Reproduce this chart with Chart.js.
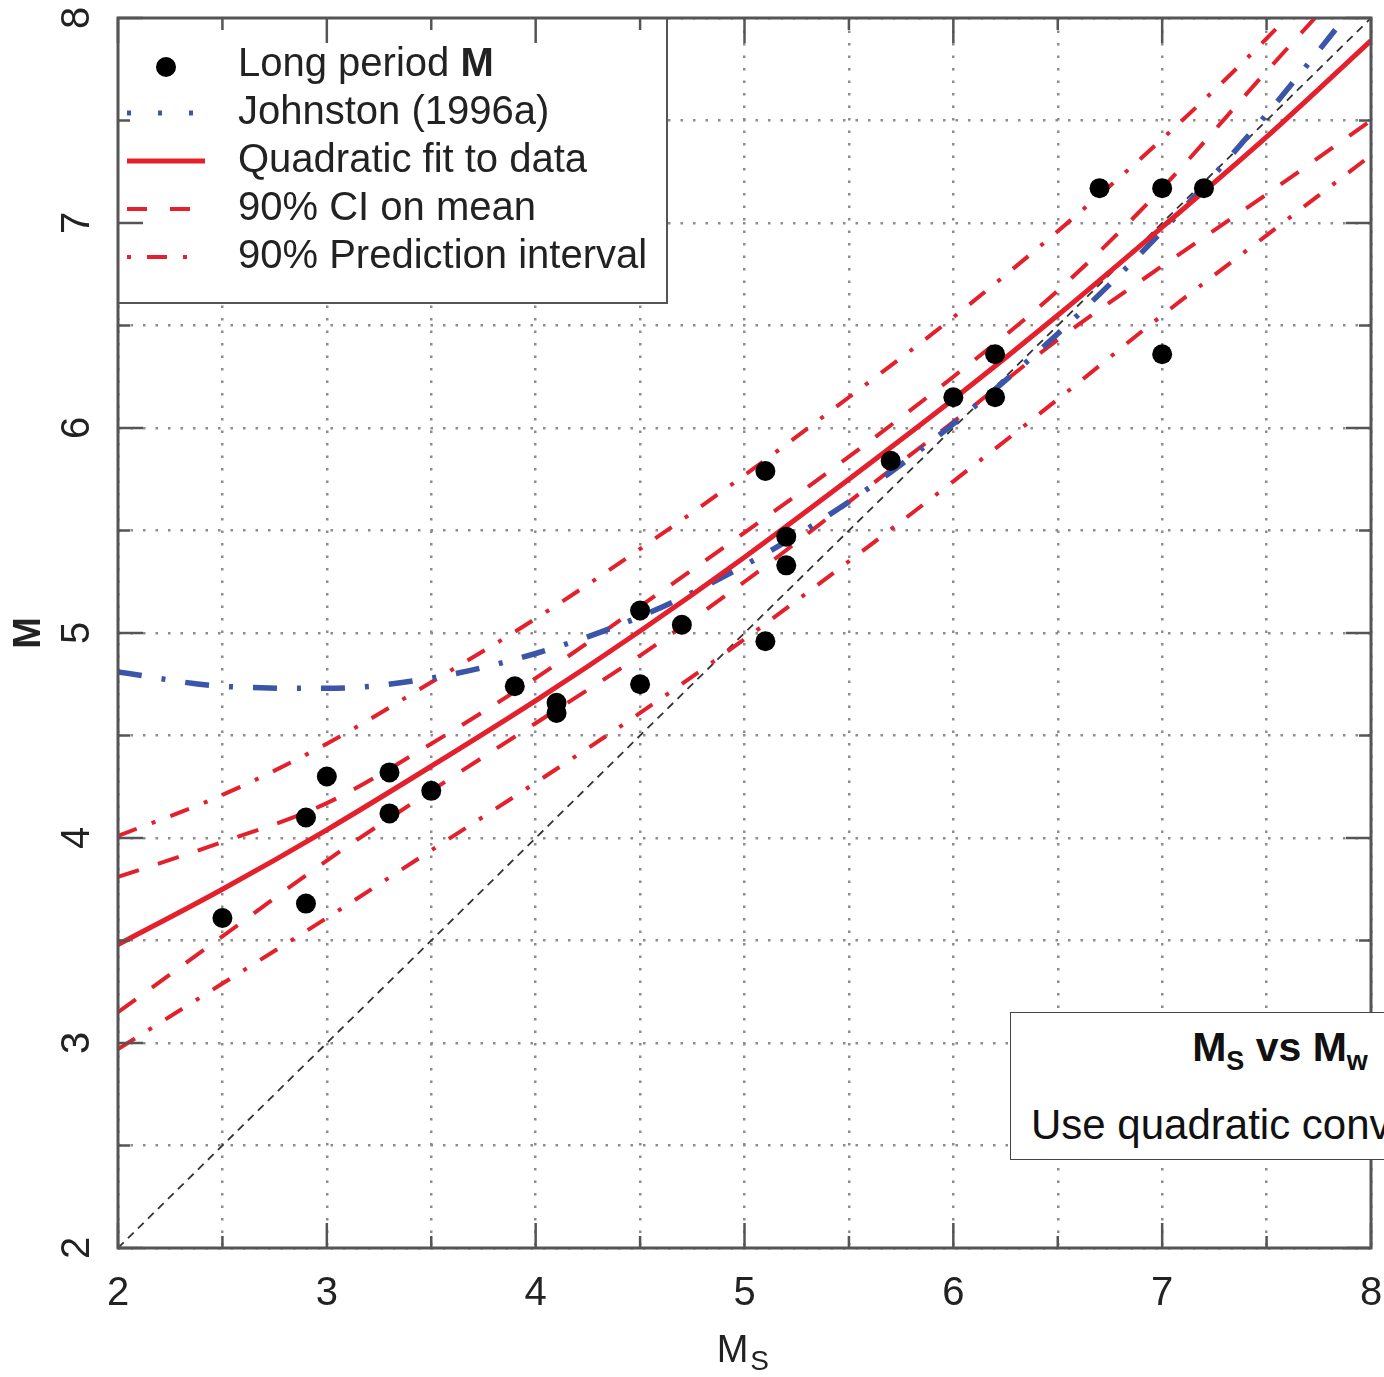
<!DOCTYPE html>
<html>
<head>
<meta charset="utf-8">
<script src="https://cdn.jsdelivr.net/npm/chart.js@4.4.1/dist/chart.umd.min.js"></script>
<style>
  html, body { margin: 0; padding: 0; background: #fff; overflow: hidden; }
  #wrap { position: relative; width: 1384px; height: 1377px; overflow: hidden; }
  #note {
    position: absolute; left: 1010px; top: 1012px; width: 540px; height: 148px;
    background: #fff; border: 1.5px solid #444; box-sizing: border-box;
    font-family: "Liberation Sans", Arial, sans-serif; color: #111;
  }
  #note .ttl { position: absolute; left: 0; width: 100%; top: 11px; text-align: center; font-weight: bold; font-size: 41px; }
  #note .ttl sub { font-size: 27px; }
  #note .txt { position: absolute; left: 20px; top: 88px; font-size: 42px; white-space: nowrap; }
</style>
</head>
<body>
<div id="wrap">
  <canvas id="grafico"></canvas>
  <div id="note">
    <div class="ttl">M<sub>S</sub> vs M<sub>w</sub></div>
    <div class="txt">Use quadratic conversion</div>
  </div>
</div>
<script>
// valores
const msGrid = [2, 2.5, 3, 3.5, 4, 4.5, 5, 5.5, 6, 6.5, 7, 7.5, 8];
const fitM = [3.48, 3.75, 4.04, 4.35, 4.67, 5.01, 5.37, 5.75, 6.14, 6.55, 6.98, 7.42, 7.89];
const ciUpper = [3.81, 3.98, 4.17, 4.46, 4.78, 5.13, 5.49, 5.86, 6.25, 6.67, 7.17, 7.74, 8.30];
const ciLower = [3.15, 3.52, 3.89, 4.23, 4.56, 4.89, 5.25, 5.64, 6.03, 6.43, 6.79, 7.14, 7.50];
const piUpper = [4.01, 4.21, 4.46, 4.76, 5.07, 5.41, 5.77, 6.15, 6.54, 6.96, 7.41, 7.90, 8.45];
const piLower = [2.97, 3.29, 3.61, 3.94, 4.27, 4.61, 4.97, 5.35, 5.74, 6.14, 6.55, 6.94, 7.33];
const johnstonM = [4.81, 4.74, 4.73, 4.78, 4.90, 5.08, 5.33, 5.64, 6.02, 6.46, 6.96, 7.53, 8.16];

const obsMs = [2.5, 2.9, 2.9, 3.0, 3.3, 3.3, 3.5, 3.9, 4.1, 4.1, 4.5, 4.5, 4.7, 5.1, 5.1, 5.2, 5.2, 5.7, 6.0, 6.2, 6.2, 6.7, 7.0, 7.0, 7.2];
const obsM = [3.61, 3.68, 4.10, 4.30, 4.32, 4.12, 4.23, 4.74, 4.66, 4.61, 5.11, 4.75, 5.04, 5.79, 4.96, 5.47, 5.33, 5.84, 6.15, 6.36, 6.15, 7.17, 7.17, 6.36, 7.17];

const oneToOneX = [2, 8];
const oneToOneY = [2, 8];

const legendLabels = ['Long period ', 'Johnston (1996a)', 'Quadratic fit to data', '90% CI on mean', '90% Prediction interval'];
const xTitle = 'M';
const xTitleSub = 'S';
const yTitle = 'M';

const rojo = '#e3202b';
const azul = '#3b55a8';
const gris = '#555';
const fuente = '"Liberation Sans", Arial, sans-serif';

function pares(xs, ys) {
  return xs.map((v, i) => ({ x: v, y: ys[i] }));
}

function curva(label, ys, color, width, dash, order) {
  return {
    type: 'line',
    label: label,
    data: pares(msGrid, ys),
    borderColor: color,
    borderWidth: width,
    borderDash: dash,
    pointRadius: 0,
    cubicInterpolationMode: 'monotone',
    fill: false,
    order: order
  };
}

function linea(ctx, x1, y1, x2, y2) {
  ctx.beginPath();
  ctx.moveTo(x1, y1);
  ctx.lineTo(x2, y2);
  ctx.stroke();
}

const marcoYTextos = {
  id: 'marcoYTextos',
  afterDraw(chart) {
    const { ctx, chartArea: a, scales: { x, y } } = chart;
    ctx.save();

    // leyenda dentro del area
    const lx2 = 667, ly2 = 303;
    ctx.fillStyle = '#fff';
    ctx.fillRect(a.left, a.top, lx2 - a.left, ly2 - a.top);
    ctx.strokeStyle = gris;
    ctx.lineWidth = 2;
    ctx.strokeRect(a.left, a.top, lx2 - a.left, ly2 - a.top);

    const filas = [65, 113, 161, 209, 257];
    ctx.font = '40px ' + fuente;
    ctx.fillStyle = '#222';
    ctx.textAlign = 'left';
    ctx.textBaseline = 'middle';
    legendLabels.forEach((t, i) => ctx.fillText(t, 238, filas[i]));
    const w0 = ctx.measureText(legendLabels[0]).width;
    ctx.font = 'bold 40px ' + fuente;
    ctx.fillText('M', 238 + w0, filas[0]);

    ctx.fillStyle = '#000';
    ctx.beginPath();
    ctx.arc(166, filas[0] + 2, 10, 0, Math.PI * 2);
    ctx.fill();

    ctx.strokeStyle = azul; ctx.lineWidth = 5; ctx.setLineDash([4, 27]);
    linea(ctx, 127, filas[1], 205, filas[1]);
    ctx.strokeStyle = rojo; ctx.lineWidth = 5; ctx.setLineDash([]);
    linea(ctx, 127, filas[2], 205, filas[2]);
    ctx.lineWidth = 4; ctx.setLineDash([20, 23]);
    linea(ctx, 127, filas[3], 192, filas[3]);
    ctx.setLineDash([4, 16, 20, 16]);
    linea(ctx, 127, filas[4], 192, filas[4]);
    ctx.setLineDash([]);

    // marcas hacia dentro
    ctx.strokeStyle = gris;
    ctx.lineWidth = 2.5;
    x.ticks.forEach(t => {
      const px = x.getPixelForValue(t.value);
      const len = Number.isInteger(t.value) ? 25 : 12;
      linea(ctx, px, a.bottom, px, a.bottom - len);
      linea(ctx, px, a.top, px, a.top + len);
    });
    y.ticks.forEach(t => {
      const py = y.getPixelForValue(t.value);
      const len = Number.isInteger(t.value) ? 25 : 12;
      linea(ctx, a.left, py, a.left + len, py);
      linea(ctx, a.right, py, a.right - len, py);
    });

    // marco
    ctx.lineWidth = 3;
    ctx.strokeRect(a.left, a.top, a.right - a.left, a.bottom - a.top);

    // etiquetas
    ctx.fillStyle = '#222';
    ctx.font = '40px ' + fuente;
    ctx.textAlign = 'center';
    ctx.textBaseline = 'middle';
    x.ticks.forEach(t => {
      if (!Number.isInteger(t.value)) return;
      ctx.fillText(String(t.value), x.getPixelForValue(t.value), a.bottom + 46);
    });
    y.ticks.forEach(t => {
      if (!Number.isInteger(t.value)) return;
      ctx.save();
      ctx.translate(a.left - 40, y.getPixelForValue(t.value));
      ctx.rotate(-Math.PI / 2);
      ctx.fillText(String(t.value), 0, 0);
      ctx.restore();
    });

    // titulos
    const cx = (a.left + a.right) / 2;
    ctx.font = '38px ' + fuente;
    ctx.textAlign = 'left';
    const wm = ctx.measureText(xTitle).width;
    ctx.fillText(xTitle, cx - wm / 2 - 12, a.bottom + 104);
    ctx.font = '28px ' + fuente;
    ctx.fillText(xTitleSub, cx + wm / 2 - 10, a.bottom + 114);

    ctx.save();
    ctx.font = 'bold 38px ' + fuente;
    ctx.textAlign = 'center';
    ctx.translate(30, y.getPixelForValue(5));
    ctx.rotate(-Math.PI / 2);
    ctx.fillText(yTitle, 0, 0);
    ctx.restore();

    ctx.restore();
  }
};

const ctxG = document.getElementById('grafico');
new Chart(ctxG, {
  type: 'scatter',
  data: {
    datasets: [
      {
        type: 'scatter',
        label: 'Long period M',
        data: pares(obsMs, obsM),
        backgroundColor: '#000',
        borderWidth: 0,
        pointRadius: 10,
        order: 0
      },
      curva('Quadratic fit to data', fitM, rojo, 5, [], 1),
      curva('Johnston (1996a)', johnstonM, azul, 5.5, [24, 20, 4, 20], 2),
      curva('90% CI upper', ciUpper, rojo, 4, [22, 20], 3),
      curva('90% CI lower', ciLower, rojo, 4, [22, 20], 3),
      curva('90% PI upper', piUpper, rojo, 4, [20, 16, 4, 16], 4),
      curva('90% PI lower', piLower, rojo, 4, [20, 16, 4, 16], 4),
      {
        type: 'line',
        label: '1:1',
        data: pares(oneToOneX, oneToOneY),
        borderColor: '#333',
        borderWidth: 1.8,
        borderDash: [8, 6],
        pointRadius: 0,
        fill: false,
        order: 5
      }
    ]
  },
  options: {
    responsive: true,
    maintainAspectRatio: false,
    animation: false,
    layout: { padding: { top: 18, right: 13, left: 0, bottom: 0 } },
    plugins: {
      legend: { display: false },
      tooltip: { enabled: false }
    },
    scales: {
      x: {
        type: 'linear',
        min: 2,
        max: 8,
        ticks: { stepSize: 0.5, display: false },
        grid: { color: '#8c8c8c', lineWidth: 2.5, drawTicks: false },
        border: { display: false, dash: [2.5, 10] },
        afterFit: s => { s.height = 129; }
      },
      y: {
        type: 'linear',
        min: 2,
        max: 8,
        ticks: { stepSize: 0.5, display: false },
        grid: { color: '#8c8c8c', lineWidth: 2.5, drawTicks: false },
        border: { display: false, dash: [2.5, 10] },
        afterFit: s => { s.width = 118; }
      }
    }
  },
  plugins: [marcoYTextos]
});
</script>
</body>
</html>
